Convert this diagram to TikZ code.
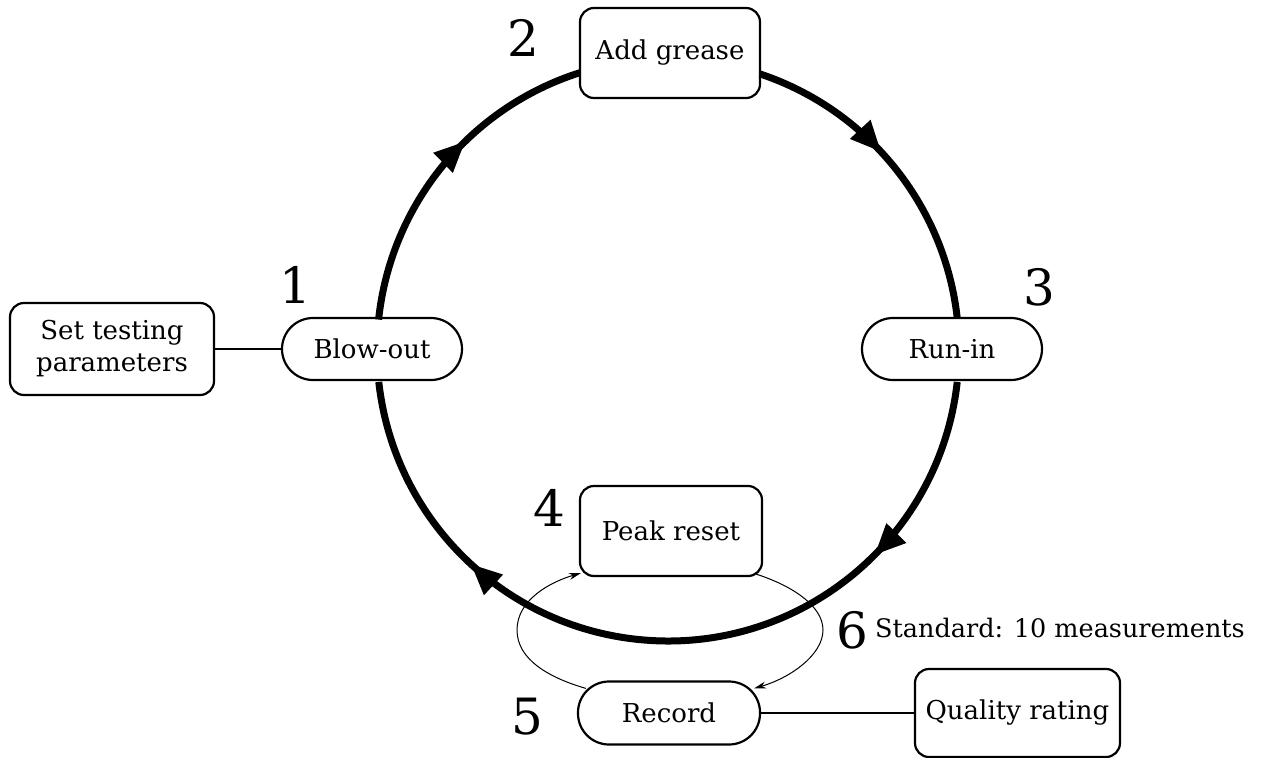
\documentclass[tikz,border=0pt]{standalone}
\usepackage{fontspec}
\setmainfont{DejaVu Serif}
\usetikzlibrary{arrows.meta,decorations.markings,calc}
\begin{document}
\begin{tikzpicture}[x=1pt,y=-1pt,
  box/.style={draw,line width=2.2pt,rounded corners=14pt,minimum width=180pt,minimum height=90pt,align=center,font=\fontsize{26}{32}\selectfont,fill=white,inner sep=0pt},
  pill/.style={draw,line width=2.2pt,rounded corners=31pt,minimum width=180pt,minimum height=62pt,font=\fontsize{26}{32}\selectfont,fill=white,inner sep=0pt},
  num/.style={font=\fontsize{50}{60}\selectfont,inner sep=0pt},
  cyc/.style={line width=7pt},
  link/.style={line width=2pt},
  loopline/.style={line width=1pt,-{Stealth[length=12pt,width=7pt]}}
]
\useasboundingbox (0,0) rectangle (1262,758);
\coordinate (c) at (668,350);

\node[pill] (blow) at (372,349) {Blow-out};
\node[pill] (run) at (952,349) {Run-in};
\node[box] (grease) at (670,53) {Add grease};
\node[box,minimum width=182pt] (peak) at (671,531) {Peak reset};
\node[pill,minimum width=182pt,minimum height=63pt] (rec) at (669,713) {Record};
\node[box,minimum width=204pt,minimum height=92pt] (set) at (112,349) {Set testing\\parameters};
\node[box,minimum width=205pt,minimum height=88pt] (qual) at (1017.5,713) {Quality rating};

\node[num] (n1) at (295,285) {1};
\node[num] (n2) at (523,38) {2};
\node[num] (n3) at (1039,287) {3};
\node[num] (n4) at (549,508) {4};
\node[num] (n5) at (527,717) {5};
\node[num] (n6) at (852,630) {6};
\node[anchor=west,inner sep=0pt,font=\fontsize{25.5}{31}\selectfont] (std) at (875,628) {Standard: 10 measurements};

% main cycle
\draw[cyc,decoration={markings,mark=at position 0.6 with {\arrow{Triangle[length=31pt,width=26pt]}}},postaction={decorate}]
  ($(c)+(174:291pt)$) arc[start angle=174,end angle=107.6,radius=291pt];
\draw[cyc,decoration={markings,mark=at position 0.44 with {\arrow{Triangle[length=31pt,width=26pt]}}},postaction={decorate}]
  ($(c)+(71.6:291pt)$) arc[start angle=71.6,end angle=6.3,radius=291pt];
\draw[cyc,decoration={markings,mark=at position 0.23 with {\arrow{Triangle[length=31pt,width=26pt]}},mark=at position 0.755 with {\arrow{Triangle[length=31pt,width=26pt]}}},postaction={decorate}]
  ($(c)+(-6.3:291pt)$) arc[start angle=-6.3,end angle=-173.7,radius=291pt];

% side links
\draw[link] (set) -- (blow);
\draw[link] (rec) -- (qual);

% inner loop
\coordinate (l1) at ($(rec.north west)+(9,8)$);
\coordinate (l2) at ($(peak.south west)+(2,-4)$);
\coordinate (r1) at ($(peak.south east)+(-7,-3)$);
\coordinate (r2) at ($(rec.north east)+(-7,8)$);
\coordinate (lm) at (517,630);
\coordinate (rm) at (823,630);
\draw[loopline] (l1) .. controls (550,678) and (517,660) .. (lm) .. controls (517,600) and (550,582) .. (l2);
\draw[loopline] (r1) .. controls (790,585) and (823,605) .. (rm) .. controls (823,655) and (790,678) .. (r2);
\end{tikzpicture}
\end{document}
